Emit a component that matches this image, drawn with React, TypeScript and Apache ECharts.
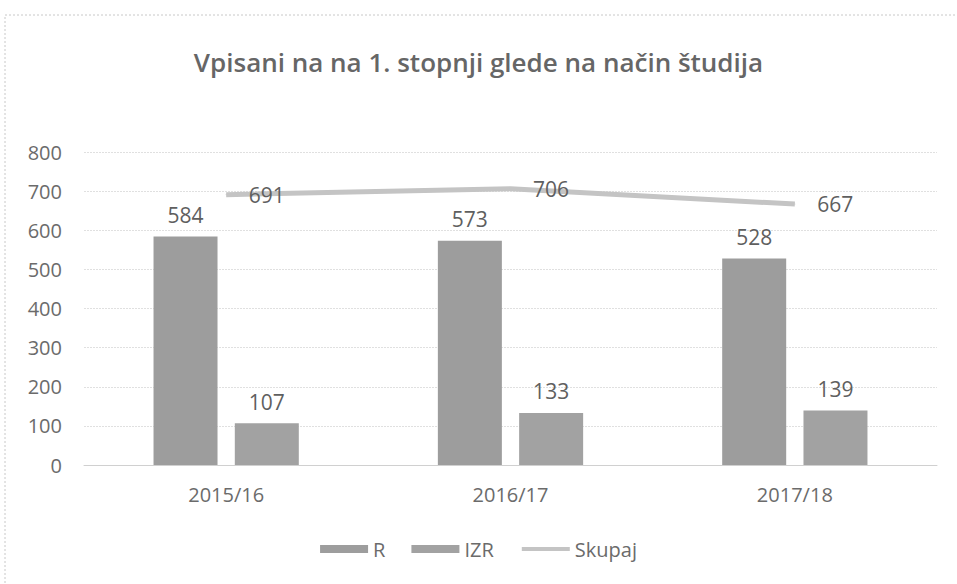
import React, { useEffect, useRef } from "react";
import * as echarts from "echarts";

const categories = ["2015/16", "2016/17", "2017/18"];
const seriesR = [584, 573, 528];
const seriesIZR = [107, 133, 139];
const seriesSkupaj = [691, 706, 667];
const yTicks = { min: 0, max: 800, interval: 100 };

export default function App() {
  const ref = useRef<HTMLDivElement>(null);
  useEffect(() => {
    if (!ref.current) return;
    const chart = echarts.init(ref.current, undefined, { renderer: "svg" });
    const font = "'Open Sans', 'Noto Sans', sans-serif";
    chart.setOption({
      animation: false,
      backgroundColor: "#ffffff",
      textStyle: { fontFamily: font },
      title: {
        text: "Vpisani na na 1. stopnji glede na način študija",
        left: "center",
        top: 44,
        textStyle: { fontFamily: font, fontSize: 26, fontWeight: 600, color: "#666666" },
      },
      graphic: [
        {
          type: "rect",
          shape: { x: 5, y: 15, width: 960, height: 600 },
          style: { fill: "none", stroke: "#c8c8c8", lineWidth: 1, lineDash: [2, 2] },
          silent: true,
        },
      ],
      legend: {
        bottom: 20,
        left: "center",
        itemWidth: 48,
        itemHeight: 8,
        itemGap: 26,
        textStyle: { fontFamily: font, fontSize: 20, color: "#6b6b6b" },
        data: [
          { name: "R", icon: "rect" },
          { name: "IZR", icon: "rect" },
          { name: "Skupaj", itemStyle: { opacity: 0 }, lineStyle: { width: 4 } },
        ],
      },
      grid: { left: 84, right: 20, top: 152, bottom: 119, containLabel: false },
      xAxis: {
        type: "category",
        data: categories,
        axisLine: { lineStyle: { color: "#d0d0d0" } },
        axisTick: { show: false },
        axisLabel: { fontFamily: font, fontSize: 20, color: "#6b6b6b", margin: 19 },
      },
      yAxis: {
        type: "value",
        min: yTicks.min,
        max: yTicks.max,
        interval: yTicks.interval,
        axisLine: { show: false },
        axisTick: { show: false },
        axisLabel: { fontFamily: font, fontSize: 20, color: "#6b6b6b", margin: 22 },
        splitLine: { lineStyle: { color: "#e0e0e0", type: [2, 1] } },
      },
      series: [
        {
          name: "R",
          type: "bar",
          data: seriesR,
          barWidth: 64,
          barGap: "27%",
          itemStyle: { color: "#9d9d9d" },
          label: { show: true, position: "top", distance: 11, fontFamily: font, fontSize: 21, color: "#5f5f5f" },
        },
        {
          name: "IZR",
          type: "bar",
          data: seriesIZR,
          barWidth: 64,
          itemStyle: { color: "#a2a2a2" },
          label: { show: true, position: "top", distance: 11, fontFamily: font, fontSize: 21, color: "#5f5f5f" },
        },
        {
          name: "Skupaj",
          type: "line",
          data: seriesSkupaj,
          symbol: "circle",
          symbolSize: 1,
          showSymbol: true,
          lineStyle: { color: "#c4c4c4", width: 5 },
          itemStyle: { color: "#c4c4c4" },
          label: { show: true, position: "right", distance: 22, fontFamily: font, fontSize: 21, color: "#5f5f5f" },
          labelLayout: { hideOverlap: false },
          z: 3,
        },
      ],
    });
    return () => chart.dispose();
  }, []);
  return (
    <div
      ref={ref}
      style={{ position: "fixed", left: 0, top: 0, width: 957, height: 584 }}
    />
  );
}
